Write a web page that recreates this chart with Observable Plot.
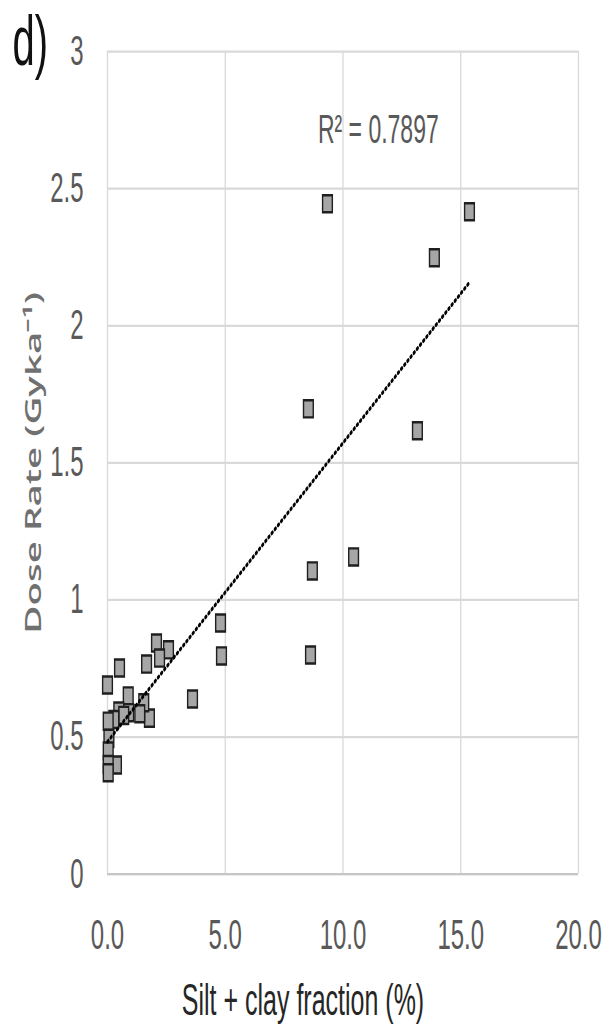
<!DOCTYPE html>
<html>
<head>
<meta charset="utf-8">
<script src="https://cdn.jsdelivr.net/npm/d3@7"></script>
<script src="https://cdn.jsdelivr.net/npm/@observablehq/plot@0.6"></script>
<style>
  html, body { margin: 0; padding: 0; background: #fff; }
  #chart { width: 611px; height: 1032px; overflow: hidden; }
</style>
</head>
<body>
<div id="chart"></div>
<script>
// Silt + clay fraction (%) and dose rate (Gy/ka)
const siltClay = [9.34, 15.37, 13.88, 8.53, 13.16, 10.45, 8.70, 8.62, 4.80, 4.84,
  3.61, 2.08, 2.59, 2.21, 1.66, 1.78, 0.51, 0.00, 0.88, 1.54,
  0.48, 0.90, 0.69, 1.37, 0.27, 0.03, 0.06, 0.03, 0.38, 0.03, 0.03];
const doseRate = [2.445, 2.416, 2.248, 1.697, 1.617, 1.157, 1.106, 0.799, 0.916, 0.796,
  0.639, 0.843, 0.818, 0.788, 0.766, 0.569, 0.752, 0.690, 0.650, 0.625,
  0.595, 0.589, 0.579, 0.585, 0.564, 0.558, 0.495, 0.449, 0.398, 0.400, 0.370];

const xTicks = [0, 5, 10, 15, 20];
const yTicks = [0, 0.5, 1, 1.5, 2, 2.5, 3];

const panelLabel = "d)";
const xLabel = "Silt + clay fraction (%)";
const yLabel = "Dose Rate (Gyka\u207B\u00B9)";
const r2Label = ["R\u00B2 = 0.7897"];
const r2X = [11.5];
const r2Y = [2.715];

const data = siltClay.map((s, i) => ({silt: s, dose: doseRate[i]}));
const notes = r2Label.map((t, i) => ({t, x: r2X[i], y: r2Y[i]}));

const S = 1.75; // vertical stretch of the whole figure
const grid = "#d9d9d9";

const chart = Plot.plot({
  width: 611,
  height: 590,
  marginTop: 29,
  marginBottom: 91,
  marginLeft: 107,
  marginRight: 33,
  style: {fontFamily: "'Liberation Sans', Arial, sans-serif", fontSize: "24px", background: "#fff", overflow: "visible"},
  x: {domain: [0, 20]},
  y: {domain: [0, 3]},
  marks: [
    Plot.gridX(xTicks, {stroke: grid, strokeOpacity: 1, strokeWidth: 1.3}),
    Plot.gridY(yTicks, {stroke: grid, strokeOpacity: 1, strokeWidth: 1.3}),
    Plot.ruleY([0], {stroke: "#c6c6c6", strokeWidth: 1.3}),
    Plot.axisX({ticks: xTicks, tickSize: 0, tickPadding: 26, tickFormat: d => d.toFixed(1), label: null, fill: "#595959", fontSize: 24}),
    Plot.axisY({ticks: yTicks, tickSize: 0, tickPadding: 24, tickFormat: d => String(d), label: null, fill: "#595959", fontSize: 24}),
    Plot.dot(data, {x: "silt", y: "dose", symbol: "square", r: 5.5, fill: "#a6a6a6", stroke: "#1f1f1f", strokeWidth: 1.4}),
    Plot.linearRegressionY(data, {x: "silt", y: "dose", ci: 0, stroke: "#000", strokeWidth: 2.2, strokeDasharray: "1.1,2.8"}),
    Plot.text(notes, {x: "x", y: "y", text: "t", fontSize: 23, fill: "#595959", textAnchor: "middle", lineAnchor: "middle"}),
    Plot.text([xLabel], {frameAnchor: "bottom", dx: -40, dy: 63, lineAnchor: "top", fontSize: 25, fill: "#262626"}),
    Plot.text([yLabel], {frameAnchor: "left", dx: -74, rotate: -90, textAnchor: "middle", lineAnchor: "middle", fontSize: 22, fontWeight: 600, fontFamily: "'Open Sans', sans-serif", fill: "#707070"}),
    Plot.text([panelLabel], {frameAnchor: "top-left", dx: -95, dy: -21, lineAnchor: "top", textAnchor: "start", fontSize: 40, fill: "#111"})
  ]
});
chart.style.transformOrigin = "0 0";
chart.style.transform = `scaleY(${S})`;
document.getElementById("chart").append(chart);
</script>
</body>
</html>
